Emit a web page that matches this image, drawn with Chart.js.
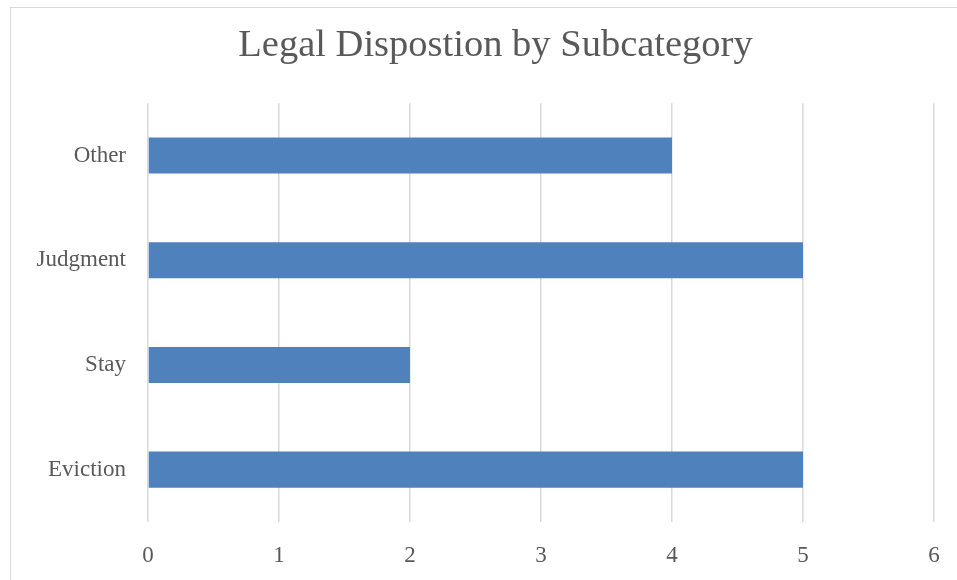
<!DOCTYPE html>
<html>
<head>
<meta charset="utf-8">
<script src="https://cdn.jsdelivr.net/npm/chart.js@4/dist/chart.umd.min.js"></script>
<style>
  html, body { margin: 0; padding: 0; background: #fff; }
  #wrap { position: relative; width: 957px; height: 580px; overflow: hidden; }
  #frame { position: absolute; left: 10px; top: 7px; width: 1000px; height: 700px; border: 1px solid #d9d9d9; }
  #chart { position: absolute; left: 0; top: 0; }
</style>
</head>
<body>
<div id="wrap">
  <div id="frame"></div>
  <canvas id="chart" width="957" height="580"></canvas>
</div>
<script>
const titleText = 'Legal Dispostion by Subcategory';
const categories = ['Other', 'Judgment', 'Stay', 'Eviction'];
const counts = [4, 5, 2, 5];
const xTicks = [0, 1, 2, 3, 4, 5, 6];

const FONT = "'Liberation Serif', 'DejaVu Serif', serif";
const TEXT = '#595959';

const ctx = document.getElementById('chart').getContext('2d');

new Chart(ctx, {
  type: 'bar',
  data: {
    labels: categories,
    datasets: [{
      data: counts,
      backgroundColor: '#4f81bd',
      borderWidth: 0,
      barPercentage: 1,
      categoryPercentage: 0.345
    }]
  },
  options: {
    indexAxis: 'y',
    responsive: false,
    animation: false,
    // left padding pushes the title centre right, like the Excel frame
    layout: { padding: { top: 23, right: 0, bottom: 0, left: 34 } },
    plugins: {
      legend: { display: false },
      tooltip: { enabled: false },
      title: {
        display: true,
        text: titleText,
        color: TEXT,
        font: { family: FONT, size: 38.5, weight: 'normal', lineHeight: 1.2 },
        padding: { top: 0, bottom: 34 }
      }
    },
    scales: {
      x: {
        min: xTicks[0],
        max: xTicks[xTicks.length - 1],
        afterBuildTicks: scale => { scale.ticks = xTicks.map(v => ({ value: v })); },
        afterFit: scale => { scale.height = 58; scale.paddingRight = 23; },
        grid: { color: '#d9d9d9', lineWidth: 1.5, drawTicks: false },
        border: { display: false },
        ticks: { color: TEXT, padding: 20, font: { family: FONT, size: 23 } }
      },
      y: {
        grid: { display: false },
        border: { display: false },
        afterFit: scale => { scale.width = 114; },
        ticks: { color: TEXT, padding: 14, font: { family: FONT, size: 23 } }
      }
    }
  }
});
</script>
</body>
</html>
